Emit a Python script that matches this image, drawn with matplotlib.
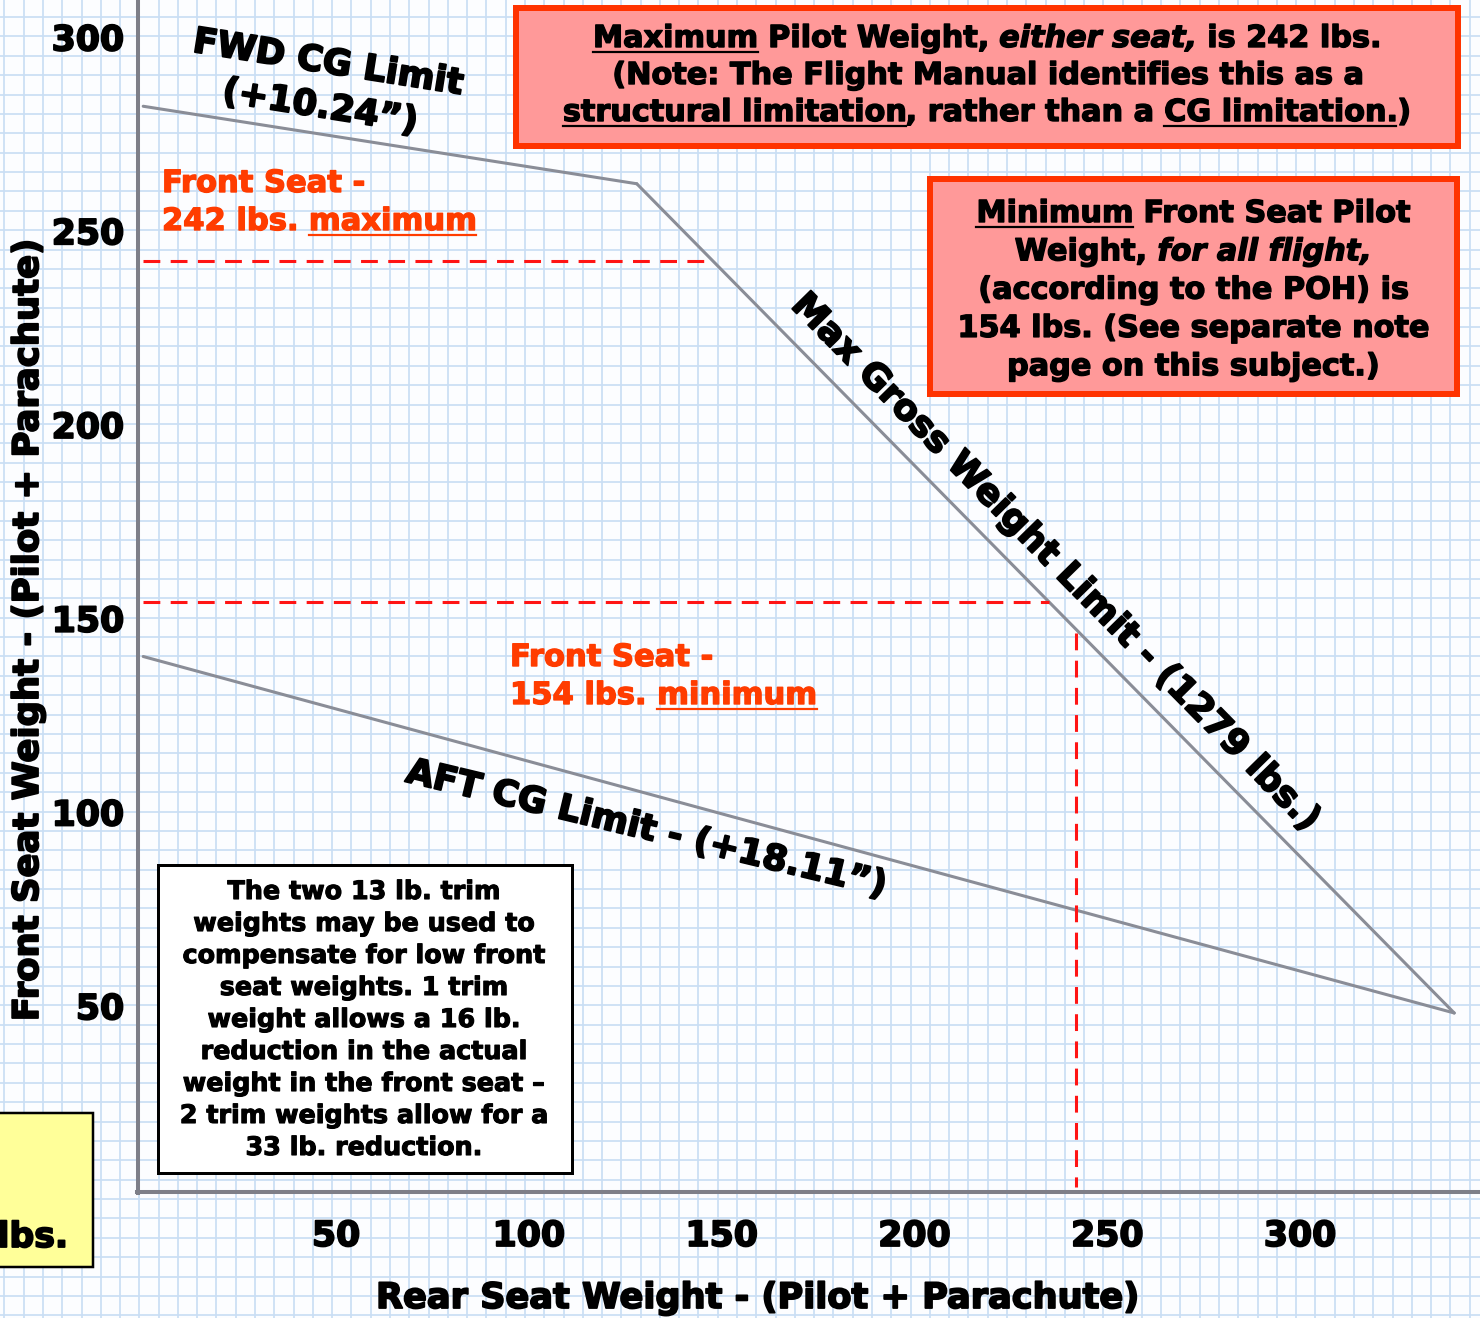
import matplotlib
matplotlib.use("Agg")
import matplotlib.pyplot as plt
from matplotlib.patches import Rectangle
from matplotlib.lines import Line2D
import matplotlib.patheffects as pe
import numpy as np

# ---------------- data (lbs) ----------------
fwd_cg_rear = [0, 128]
fwd_cg_front = [282, 262]
gross_rear = [128, 340]
gross_front = [262, 48]
aft_cg_rear = [0, 340]
aft_cg_front = [140, 48]
max_front_rear = [0, 146]
max_front_front = [242, 242]
min_front_rear = [0, 235]
min_front_front = [154, 154]
rear_ref_rear = [242, 242]
rear_ref_front = [146, 3]
x_ticks = [50, 100, 150, 200, 250, 300]
y_ticks = [50, 100, 150, 200, 250, 300]

# ---------------- layout ----------------
W, H, DPI = 1480, 1318, 100
X0, SX = 143.2, 3.856     # pixel x of rear=0, px per lb
Y0, SY = 1199.0, 3.875    # pixel y of front=0, px per lb
FONT = 'DejaVu Sans'
PENCIL = '#8a8d97'
GRID = '#cadef4'
RED_TXT = '#ff3c00'
RED_DASH = '#ff1414'

fig = plt.figure(figsize=(W / DPI, H / DPI), dpi=DPI, facecolor='#fcfdff')
ax = fig.add_axes([0, 0, 1, 1])
ax.set_xlim(-X0 / SX, (W - X0) / SX)
ax.set_ylim((Y0 - H) / SY, Y0 / SY)
ax.set_axis_off()


def fx(px):
    return px / W


def fy(py):
    return 1 - py / H


def dx(px):
    return (px - X0) / SX


def dy(py):
    return (Y0 - py) / SY


def heavy(color='black', w=1.0):
    return [pe.withStroke(linewidth=w, foreground=color)]


# graph paper
for gx in np.arange(-40, 360, 5) - 1.0:
    ax.axvline(gx, color=GRID, lw=1.25, zorder=0)
for gy in np.arange(-35, 320, 5):
    ax.axhline(gy, color=GRID, lw=1.25, zorder=0)

# hand-drawn axes
ax.plot([dx(138), dx(138)], [dy(0), dy(1193)], color='#7e7f88', lw=2.9, zorder=2)
ax.plot([dx(137), dx(1480)], [dy(1192), dy(1192)], color='#7e7f88', lw=2.9, zorder=2)

# limit lines
for xs, ys in [(fwd_cg_rear, fwd_cg_front), (gross_rear, gross_front), (aft_cg_rear, aft_cg_front)]:
    ax.plot(xs, ys, color=PENCIL, lw=2.2, solid_capstyle='round', zorder=3)

# red dashed reference lines
for xs, ys in [(max_front_rear, max_front_front), (min_front_rear, min_front_front),
               (rear_ref_rear, rear_ref_front)]:
    ax.plot(xs, ys, color=RED_DASH, lw=2.2, dashes=(5.5, 3.4), zorder=3)

# tick labels
for v in y_ticks:
    ax.text(dx(124), v - 14 / SY, str(v), ha='right', va='baseline', fontsize=25,
            fontweight='bold', family=FONT, zorder=5, path_effects=heavy(w=1.3))
for v in x_ticks:
    ax.text(v, dy(1246), str(v), ha='center', va='baseline', fontsize=25,
            fontweight='bold', family=FONT, zorder=5, path_effects=heavy(w=1.3))

# axis titles
fig.text(fx(758), fy(1308), 'Rear Seat Weight - (Pilot + Parachute)', ha='center', va='baseline',
         fontsize=25.3, fontweight='bold', family=FONT, path_effects=heavy(w=1.3))
fig.text(fx(28), fy(630), 'Front Seat Weight - (Pilot + Parachute)', ha='center', va='center',
         rotation=90, fontsize=25.5, fontweight='bold', family=FONT, path_effects=heavy(w=1.3))

# ---------------- rich text helper ----------------
renderer = fig.canvas.get_renderer()
_cache = {}


def text_width(s, size, style='normal'):
    key = (s, size, style)
    if key in _cache:
        return _cache[key]
    vals = []
    for txt in ('X' + s + 'X', 'XX'):
        t = fig.text(0, 0, txt, fontsize=size, fontweight='bold', fontstyle=style, family=FONT)
        vals.append(t.get_window_extent(renderer).width)
        t.remove()
    _cache[key] = vals[0] - vals[1]
    return _cache[key]


def rich_line(segs, x, baseline, size, color='black', align='center', ul_off=4.5, ul_px=2.2,
              stroke=1.0):
    segs = [(s if isinstance(s, tuple) else (s, 0, 0)) for s in segs]
    widths = [text_width(s, size, 'italic' if it else 'normal') for s, it, ul in segs]
    total = sum(widths)
    cur = x - total / 2 if align == 'center' else x
    for (s, it, ul), w in zip(segs, widths):
        style = 'italic' if it else 'normal'
        stripped = s.lstrip(' ')
        lead = text_width(s[:len(s) - len(stripped)], size) if len(stripped) < len(s) else 0
        fig.text(fx(cur + lead), fy(baseline), stripped, fontsize=size, fontweight='bold',
                 fontstyle=style, family=FONT, color=color, ha='left', va='baseline', zorder=6,
                 path_effects=heavy(color, stroke))
        if ul:
            sw = text_width(stripped, size, style)
            fig.add_artist(Line2D([fx(cur + lead), fx(cur + lead + sw)],
                                  [fy(baseline + ul_off)] * 2, color=color, lw=ul_px * 0.72, zorder=6))
        cur += w


def box(x0, y0, x1, y1, fc, ec, lw_px):
    fig.add_artist(Rectangle((fx(x0), fy(y1)), fx(x1) - fx(x0), fy(y0) - fy(y1),
                             transform=fig.transFigure, facecolor=fc, edgecolor=ec,
                             lw=lw_px * 0.72, zorder=4))


# ---------------- boxes ----------------
box(516, 8, 1458, 146, '#ff9999', '#ff3300', 6)
rich_line([("Maximum", 0, 1), " Pilot Weight,", (" either seat,", 1, 0), " is 242 lbs."], 987, 47, 21.8)
rich_line(["(Note: The Flight Manual identifies this as a"], 987, 84, 21.8)
rich_line([("structural limitation", 0, 1), ", rather than a", (" CG limitation.", 0, 1), ")"], 987, 121, 21.8)

box(930, 179, 1457, 394, '#ff9999', '#ff3300', 6)
box2_lines = [[("Minimum", 0, 1), " Front Seat Pilot"],
              ["Weight,", (" for all flight,", 1, 0)],
              ["(according to the POH) is"],
              ["154 lbs. (See separate note"],
              ["page on this subject.)"]]
for i, segs in enumerate(box2_lines):
    rich_line(segs, 1193, 222 + 38.3 * i, 21.8)

box(157.5, 864.5, 571.5, 1172.5, 'white', 'black', 3)
box3_lines = ["The two 13 lb. trim", "weights may be used to", "compensate for low front",
              "seat weights. 1 trim", "weight allows a 16 lb.", "reduction in the actual",
              "weight in the front seat \u2013", "2 trim weights allow for a", "33 lb. reduction."]
for i, s in enumerate(box3_lines):
    rich_line([s], 364, 899 + 32 * i, 18.3, stroke=0.8)

box(-10, 1112.5, 93.5, 1266.5, '#ffff99', 'black', 2.5)
fig.text(fx(68), fy(1247), 'lbs.', ha='right', va='baseline', fontsize=25, fontweight='bold',
         family=FONT, zorder=6, path_effects=heavy(w=1.3))

# ---------------- red annotations ----------------
rich_line(["Front Seat -"], 162, 192, 22, color=RED_TXT, align='left')
rich_line(["242 lbs.", (" maximum", 0, 1)], 162, 230, 22, color=RED_TXT, align='left', ul_off=5)
rich_line(["Front Seat -"], 510, 666, 22, color=RED_TXT, align='left')
rich_line(["154 lbs.", (" minimum", 0, 1)], 510, 704, 22, color=RED_TXT, align='left', ul_off=5)

# ---------------- line labels ----------------
lbl = dict(fontweight='bold', family=FONT, ha='center', va='center',
           rotation_mode='anchor', zorder=6, path_effects=heavy(w=1.4))
fig.text(fx(328), fy(63), 'FWD CG Limit', rotation=-9, fontsize=25.5, **lbl)
fig.text(fx(320), fy(107), '(+10.24\u201d)', rotation=-9, fontsize=25.5, **lbl)
fig.text(fx(646), fy(829), 'AFT CG Limit - (+18.11\u201d)', rotation=-13.5, fontsize=25.5, **lbl)
fig.text(fx(1056), fy(563), 'Max Gross Weight Limit - (1279 lbs.)', rotation=-45.5, fontsize=25.8, **lbl)

fig.savefig('out.png', dpi=DPI, facecolor=fig.get_facecolor())
